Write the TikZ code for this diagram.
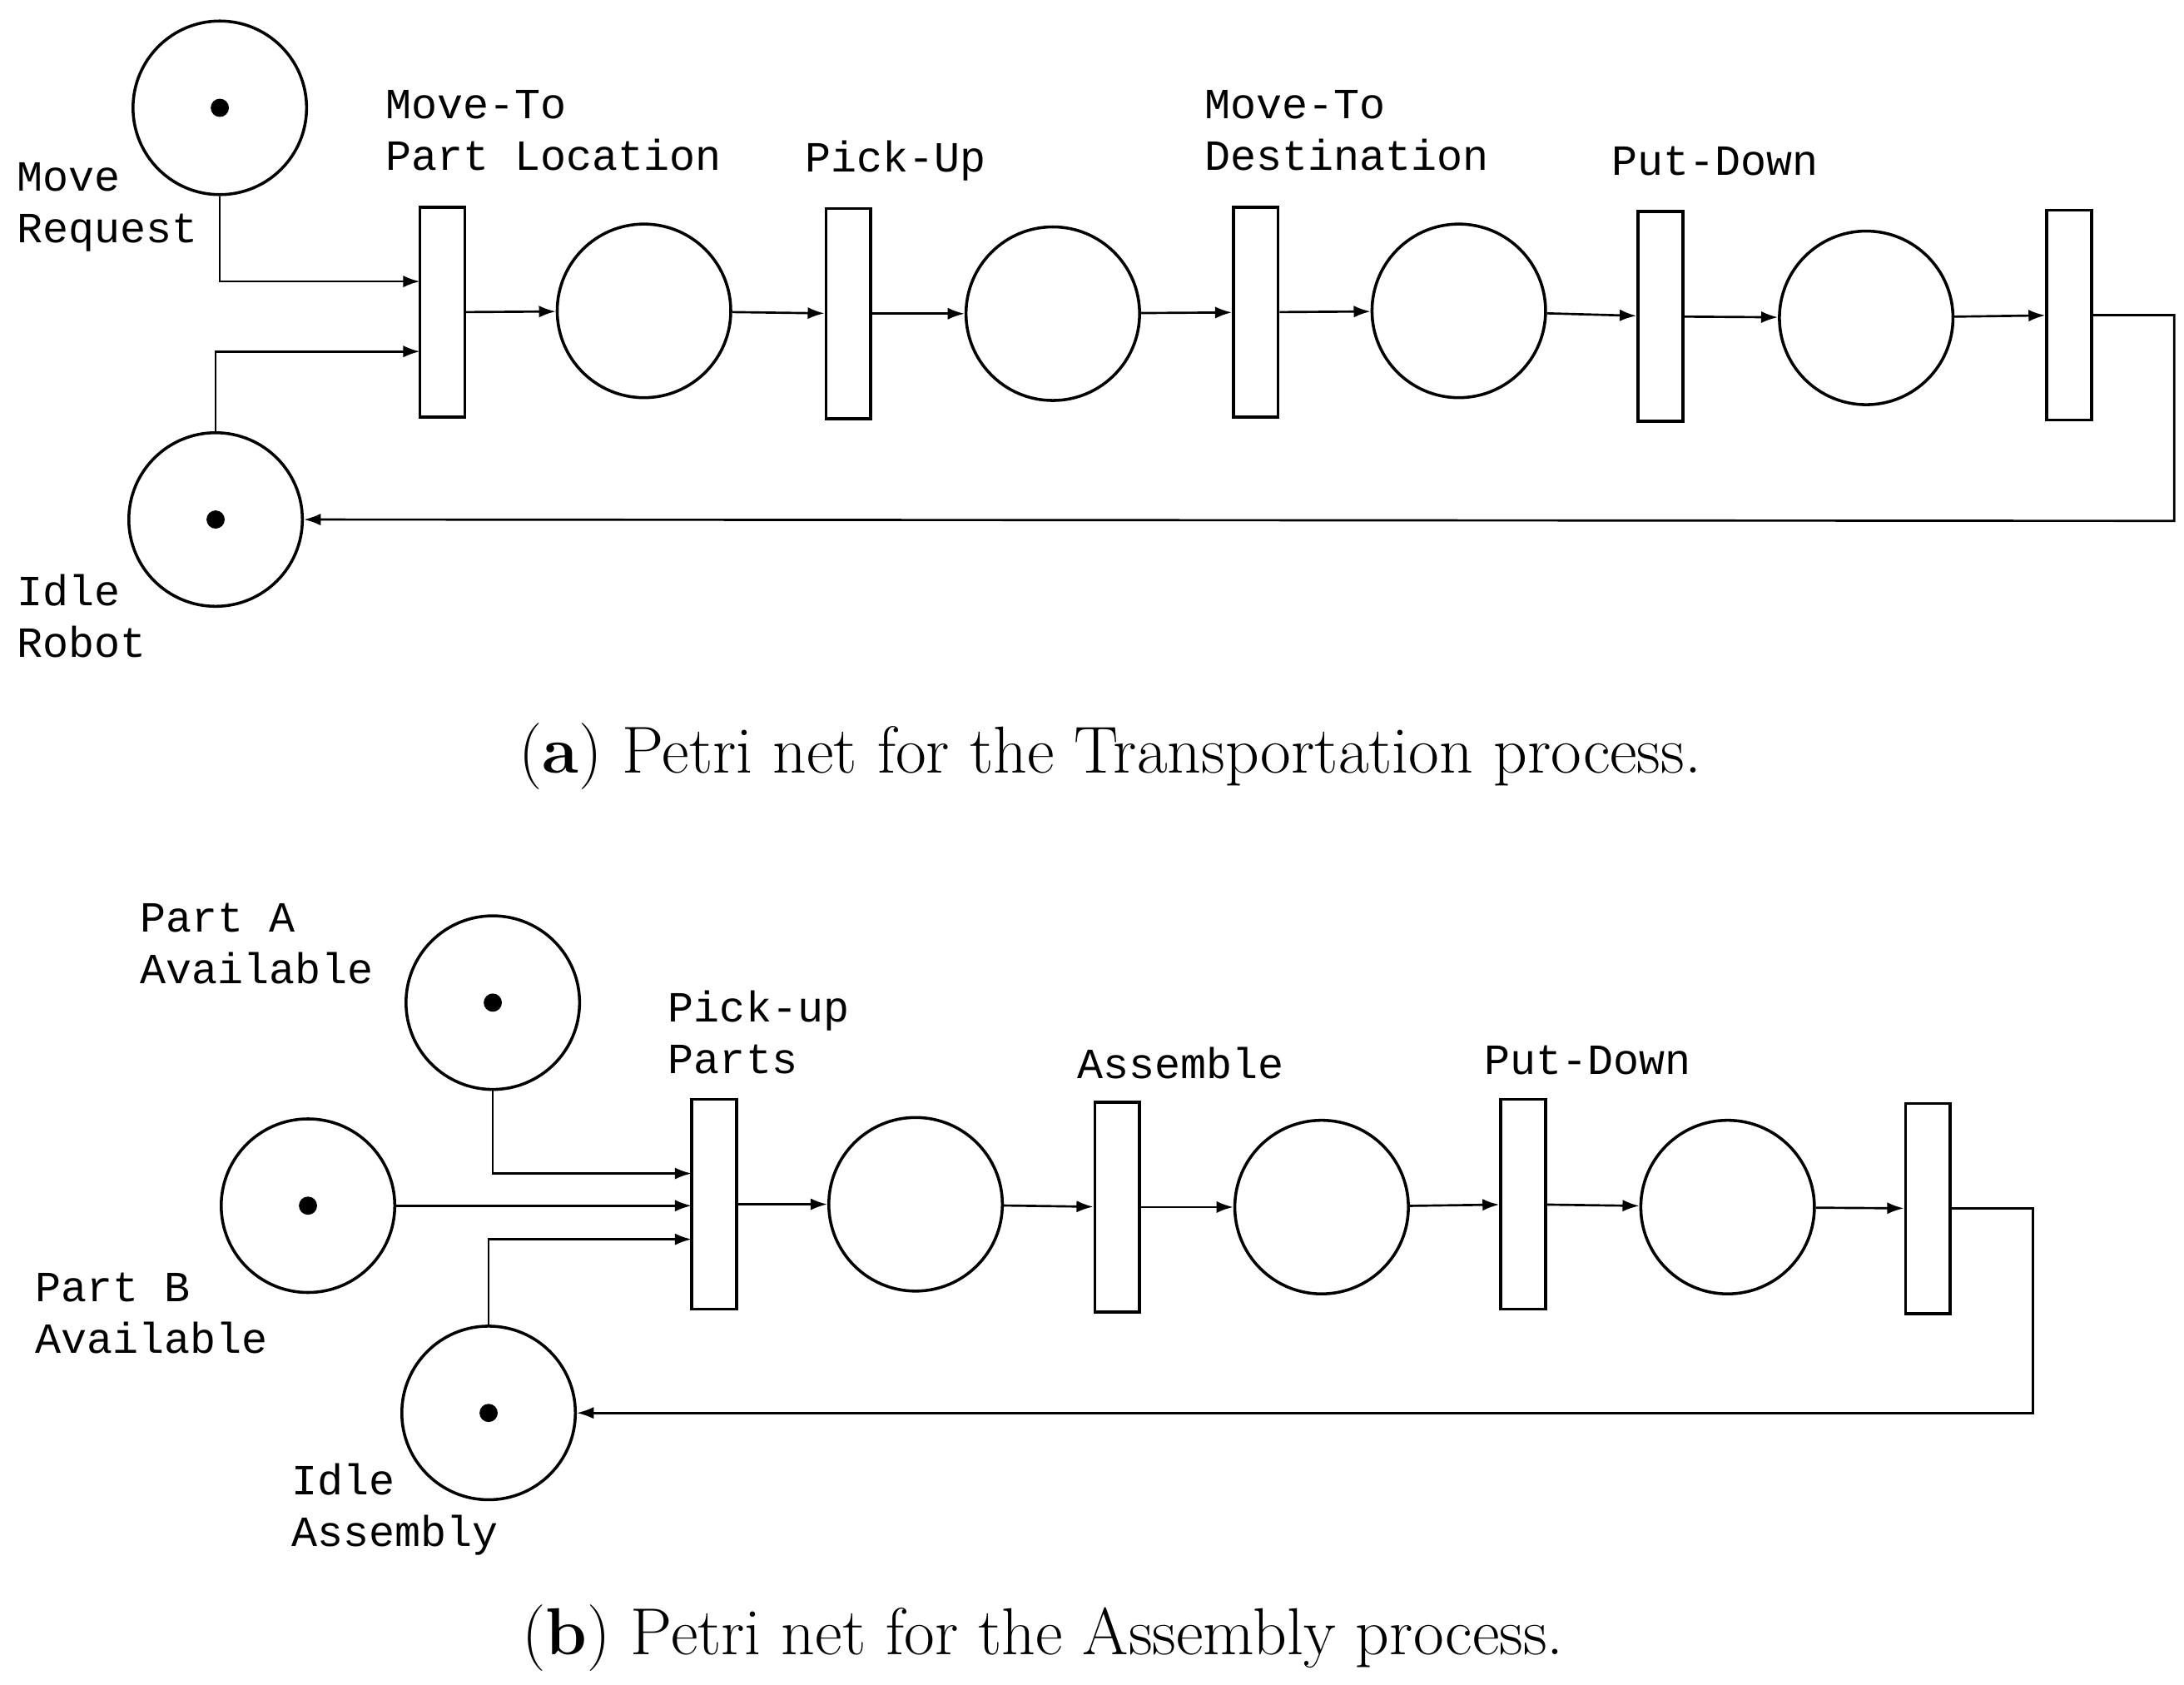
\documentclass[tikz,border=0pt]{standalone}
\usepackage{fontspec}
\newfontfamily\monofont{Liberation Mono}
\usetikzlibrary{arrows.meta}
\begin{document}
\begin{tikzpicture}[x=0.02cm,y=-0.02cm,
    place/.style={draw,circle,line width=1.2pt,minimum size=2.48cm,inner sep=0pt},
    trans/.style={draw,rectangle,line width=1.2pt,minimum width=0.64cm,minimum height=3cm,inner sep=0pt},
    token/.style={circle,fill,inner sep=0pt,minimum size=0.26cm},
    lbl/.style={font=\monofont\fontsize{17.5}{21}\selectfont,align=left,anchor=west,inner sep=0pt},
    arc/.style={-{Latex[length=0.24cm,width=0.17cm]},line width=0.9pt},
    caption/.style={font=\fontsize{27}{32}\selectfont}]
\useasboundingbox (0,0) rectangle (1560,1203);
% (a) transportation net
\node[place] (req) at (157,77) {};
\node[token] at (req) {};
\node[place] (idle) at (154,371) {};
\node[token] at (idle) {};
\node[trans] (t1) at (316,223) {};
\node[place] (p1) at (460,222) {};
\node[trans] (t2) at (606,224) {};
\node[place] (p2) at (752,224) {};
\node[trans] (t3) at (897,223) {};
\node[place] (p3) at (1042,222) {};
\node[trans] (t4) at (1186,226) {};
\node[place] (p4) at (1333,227) {};
\node[trans] (t5) at (1478,225) {};
\coordinate (in1) at (300,201);
\coordinate (in2) at (300,251);
\coordinate (back) at (1553,372);
\draw[arc] (req.south) |- (in1);
\draw[arc] (idle.north) |- (in2);
\draw[arc] (t1) -- (p1);
\draw[arc] (p1) -- (t2);
\draw[arc] (t2) -- (p2);
\draw[arc] (p2) -- (t3);
\draw[arc] (t3) -- (p3);
\draw[arc] (p3) -- (t4);
\draw[arc] (t4) -- (p4);
\draw[arc] (p4) -- (t5);
\draw[arc] (t5.east) -| (back) -- (idle.east);
\node[lbl] (lreq) at (12,148) {Move\\Request};
\node[lbl] (lidle) at (12,440) {Idle\\Robot};
\node[lbl] (lt1) at (275,93) {Move-To\\Part Location};
\node[lbl] (lt2) at (575,115) {Pick-Up};
\node[lbl] (lt3) at (860,93) {Move-To\\Destination};
\node[lbl] (lt4) at (1151,115) {Put-Down};
\node[caption] (capa) at (793,540) {(\textbf{a}) Petri net for the Transportation process.};
% (b) assembly net
\node[place] (pa) at (352,716) {};
\node[token] at (pa) {};
\node[place] (pb) at (220,861) {};
\node[token] at (pb) {};
\node[place] (ia) at (349,1009) {};
\node[token] at (ia) {};
\node[trans] (s1) at (510,860) {};
\node[place] (q1) at (654,860) {};
\node[trans] (s2) at (798,862) {};
\node[place] (q2) at (944,862) {};
\node[trans] (s3) at (1088,860) {};
\node[place] (q3) at (1234,862) {};
\node[trans] (s4) at (1377,863) {};
\coordinate (inA) at (494,838);
\coordinate (inB) at (494,861);
\coordinate (inI) at (494,885);
\coordinate (backb) at (1452,1009);
\draw[arc] (pa.south) |- (inA);
\draw[arc] (pb.east) -- (inB);
\draw[arc] (ia.north) |- (inI);
\draw[arc] (s1) -- (q1);
\draw[arc] (q1) -- (s2);
\draw[arc] (s2) -- (q2);
\draw[arc] (q2) -- (s3);
\draw[arc] (s3) -- (q3);
\draw[arc] (q3) -- (s4);
\draw[arc] (s4.east) -| (backb) -- (ia.east);
\node[lbl] (lpa) at (100,674) {Part A\\Available};
\node[lbl] (lpb) at (25,938) {Part B\\Available};
\node[lbl] (lia) at (208,1078) {Idle\\Assembly};
\node[lbl] (ls1) at (477,737) {Pick-up\\Parts};
\node[lbl] (ls2) at (769,759) {Assemble};
\node[lbl] (ls3) at (1060,757) {Put-Down};
\node[caption] (capb) at (745,1170) {(\textbf{b}) Petri net for the Assembly process.};
\end{tikzpicture}
\end{document}
